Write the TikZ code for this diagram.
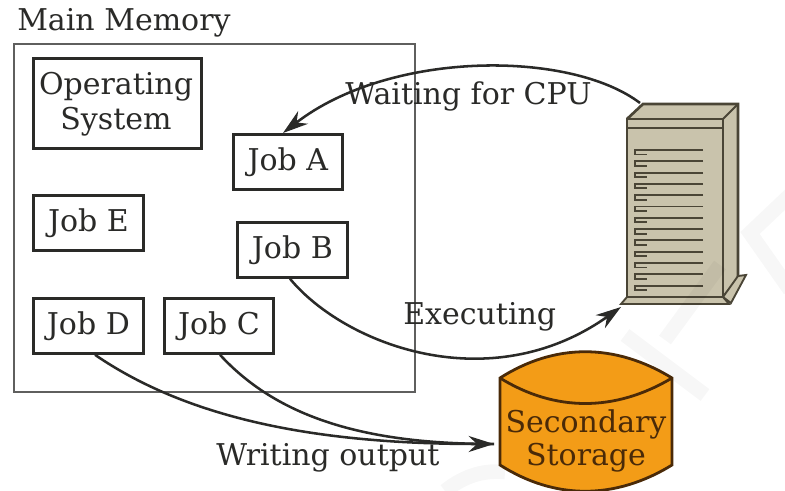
\documentclass[tikz,border=0pt]{standalone}
\usepackage{fontspec}
\setmainfont{DejaVu Serif}
\usetikzlibrary{arrows.meta}
\definecolor{ink}{HTML}{2A2A28}
\definecolor{srv}{HTML}{C9C3AC}
\definecolor{srvd}{HTML}{4A4536}
\definecolor{disk}{HTML}{F39C17}
\definecolor{diskd}{HTML}{4A2A08}
\tikzset{
 box/.style={draw=ink,line width=2.1pt,fill=white,inner sep=0pt,anchor=north west,align=center},
 lbl/.style={text=ink,font=\fontsize{22.5}{26}\selectfont,inner sep=0pt},
 link/.style={draw=ink,line width=1.9pt,-{Stealth[length=19pt,width=12pt]}},
 plain/.style={draw=ink,line width=1.9pt},
 srvline/.style={draw=srvd,line width=1.4pt},
 mark band/.style={draw=black,opacity=0.03,line width=11pt}
}
\begin{document}
\begin{tikzpicture}[x=0.75pt,y=-0.75pt]
\useasboundingbox (0,0) rectangle (785,491);
% main memory
\node[draw=ink!75,line width=1.5pt,minimum width=300.75pt,minimum height=261pt,inner sep=0pt,anchor=north west] (mem) at (13,43) {};
\node[lbl,anchor=west] (memt) at (17,23) {Main Memory};
% jobs
\node[box,minimum width=126pt,minimum height=67.5pt] (os) at (32,57) {};
\node[lbl,align=center] (ostext) at (116,104) {Operating\\System};
\node[box,lbl,minimum width=81.75pt,minimum height=41.25pt] (a) at (232,133) {Job A};
\node[box,lbl,minimum width=82.5pt,minimum height=41.25pt] (e) at (32,194) {Job E};
\node[box,lbl,minimum width=82.5pt,minimum height=41.25pt] (b) at (236,221) {Job B};
\node[box,lbl,minimum width=82.5pt,minimum height=41.25pt] (d) at (32,297) {Job D};
\node[box,lbl,minimum width=81.75pt,minimum height=41.25pt] (c) at (163,297) {Job C};
% server
\fill[srv] (627,119) -- (643,104) -- (738,104) -- (738,280) -- (746,275) -- (731,303) -- (623,303) -- (627,297) -- cycle;
\draw[srvline,line width=2pt] (627,119) rectangle (723,297);
\draw[srvline,line width=2pt] (627,119) -- (643,104) -- (738,104) -- (738,280) -- (723,297);
\draw[srvline] (723,119) -- (738,104);
\draw[srvline,line width=2pt] (627,128) -- (723,128);
\draw[srvline] (627,297) -- (621,304) -- (729,304) -- (723,297);
\draw[srvline,fill=srv] (738,276) -- (746,275) -- (731,303) -- (723,297) -- cycle;
\foreach \k in {0,...,12}{
  \draw[srvline] (703,150+11.3*\k) -- (635,150+11.3*\k) -- (635,154.5+11.3*\k) -- (647,154.5+11.3*\k);
}
\coordinate (srvtop) at (640,103);
\coordinate (srvbot) at (621,307);
% disk
\draw[draw=diskd,line width=2.1pt,fill=disk] (500,378) .. controls (555,343) and (615,343) .. (672,378) -- (672,465) .. controls (615,500) and (555,500) .. (500,465) -- cycle;
\draw[draw=diskd,line width=2.1pt] (500,378) .. controls (555,412) and (615,412) .. (672,378);
\node[lbl,text=diskd] (sec) at (586,424) {Secondary};
\node[lbl,text=diskd] (sto) at (586,458) {Storage};
\coordinate (diskin) at (494,444);
% connectors
\draw[link] (srvtop) .. controls (570,50) and (390,50) .. (a.north -| 283,0);
\draw[link] (b.south -| 290,0) .. controls (345,345) and (490,400) .. (srvbot);
\draw[link] (d.south -| 95,0) .. controls (190,420) and (320,444) .. (diskin);
\draw[plain] (c.south -| 220,0) .. controls (280,420) and (370,444) .. (diskin);
% labels
\node[lbl,anchor=west] (wait) at (345,96) {Waiting for CPU};
\node[lbl,anchor=west] (exec) at (403,317) {Executing};
\node[lbl,anchor=west] (wout) at (216,458) {Writing output};
% faint watermark
\draw[mark band] (790,195) -- (750,233) -- (790,290);
\draw[mark band] (625,335) -- (705,395);
\draw[mark band] (720,265) -- (665,340);
\draw[mark band] (445,491) .. controls (465,475) and (485,470) .. (505,472);
\end{tikzpicture}
\end{document}
